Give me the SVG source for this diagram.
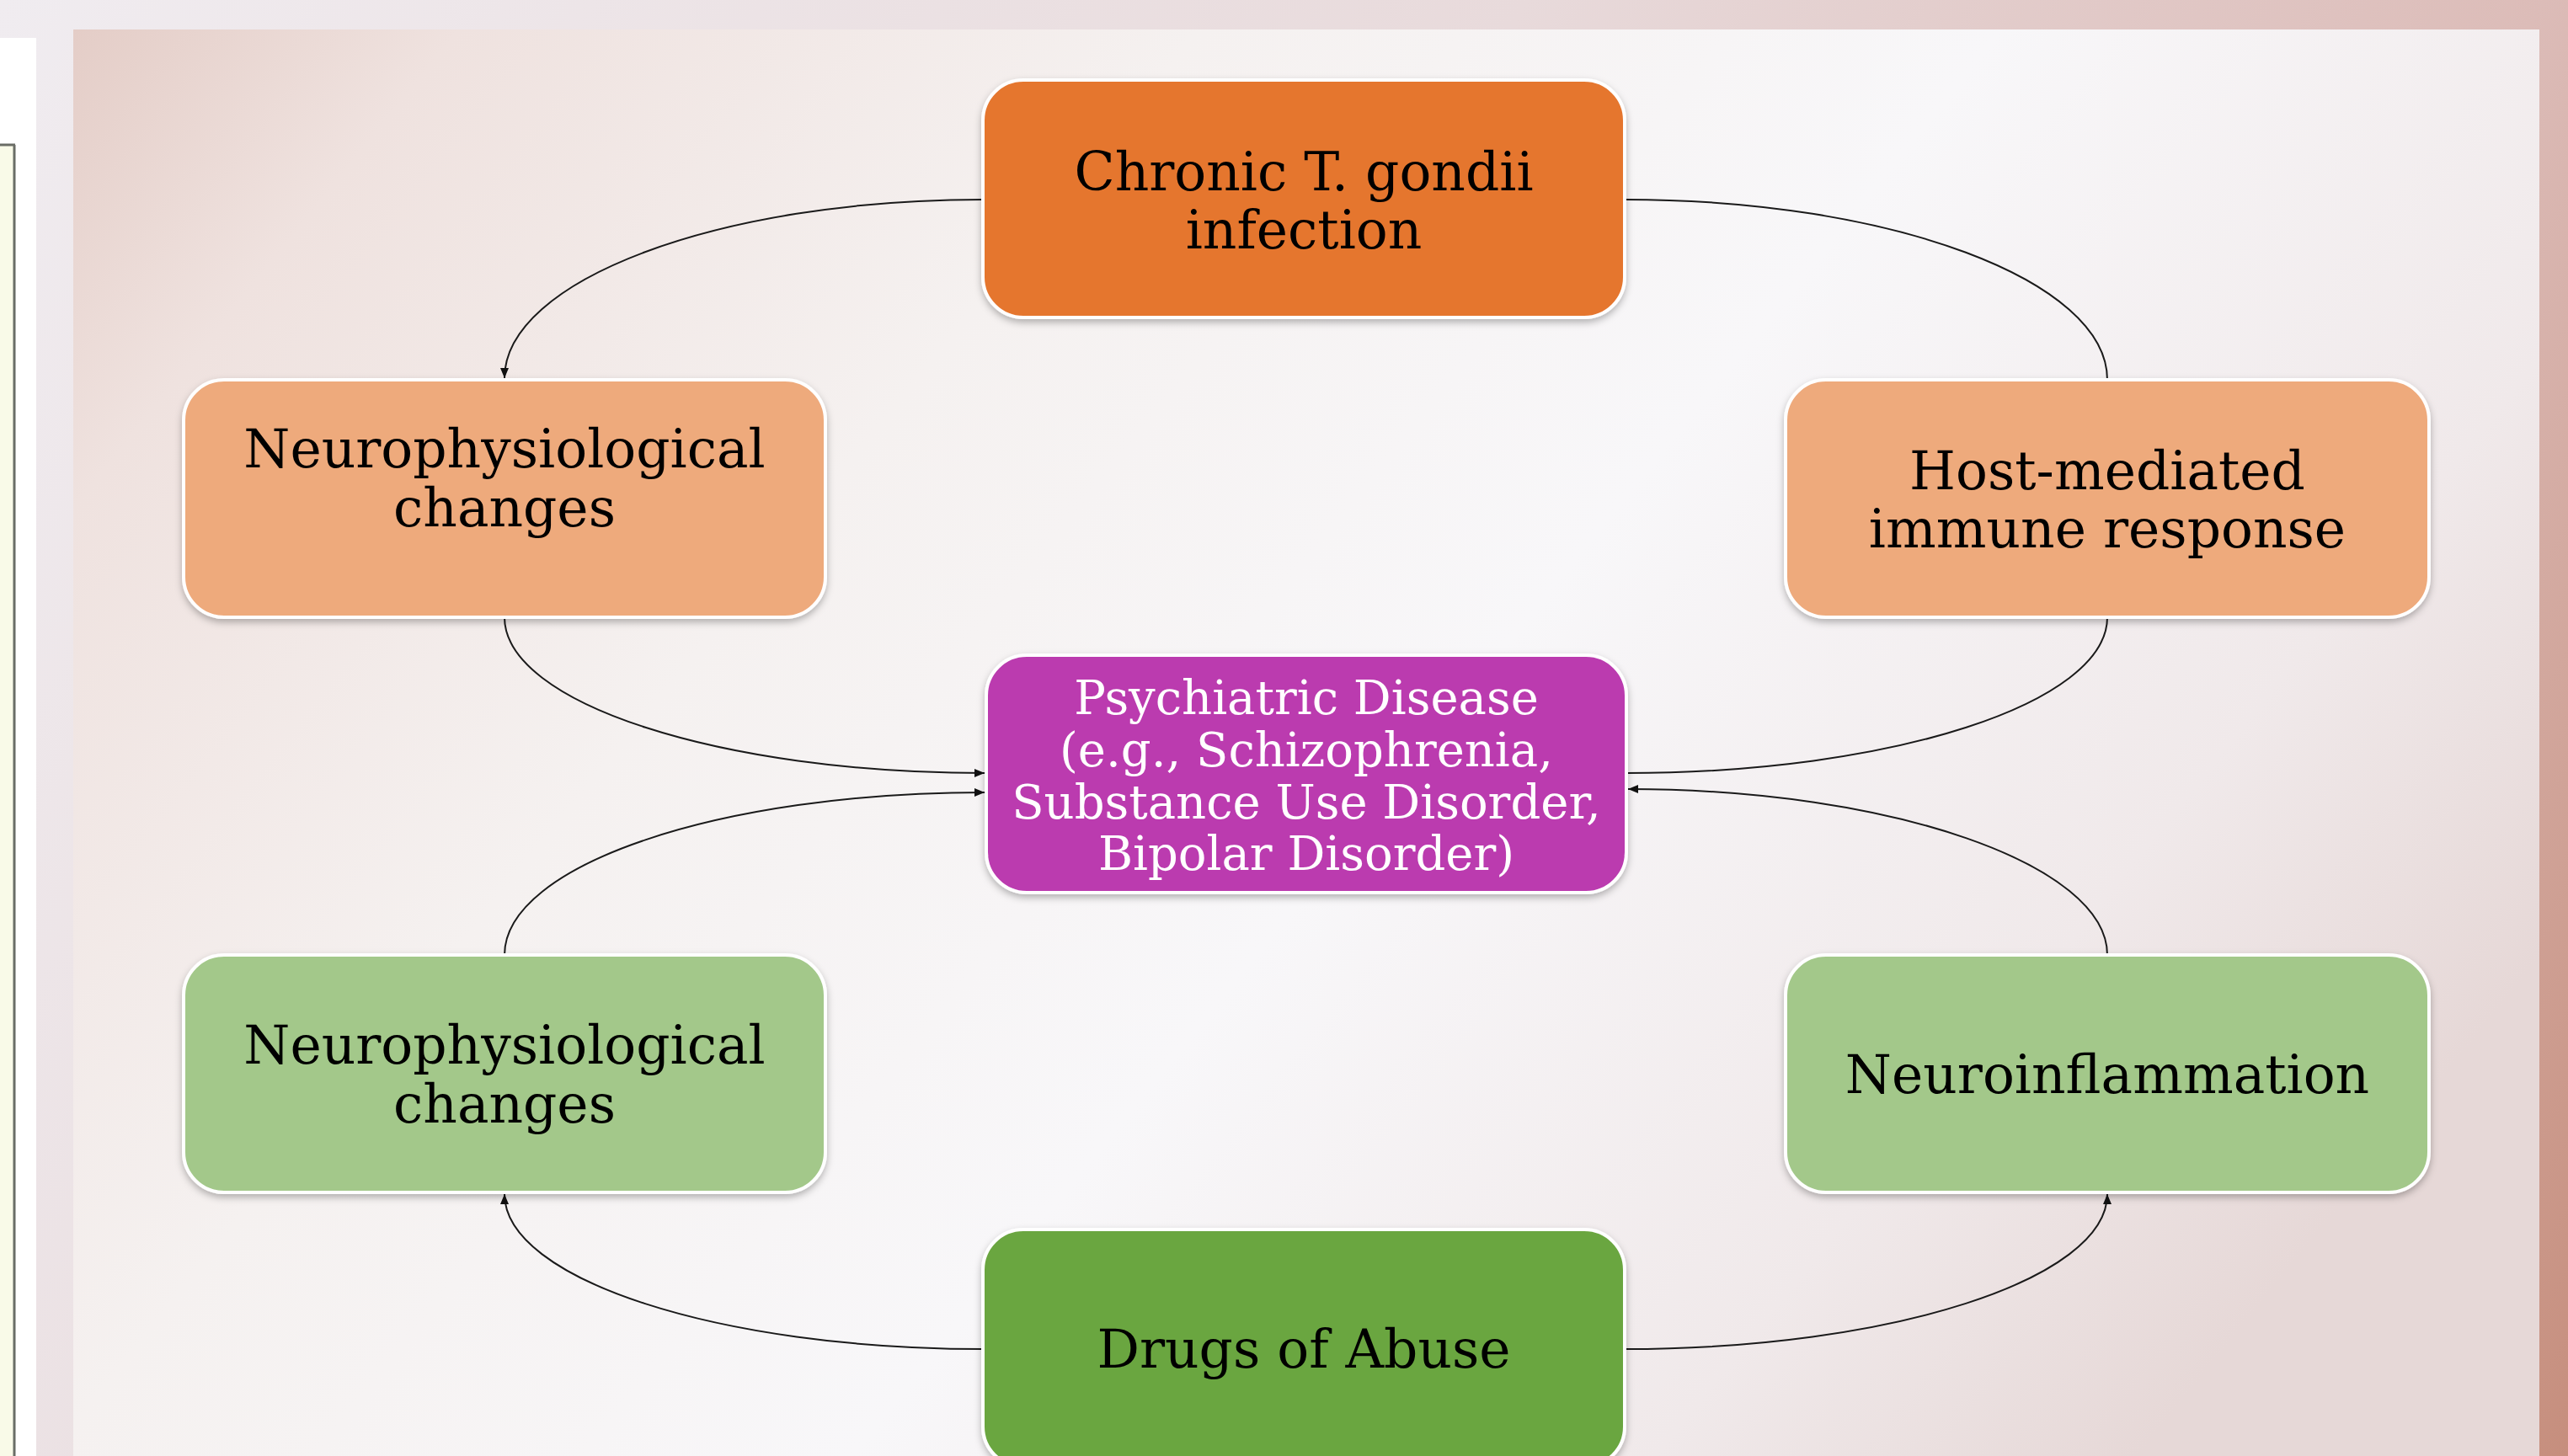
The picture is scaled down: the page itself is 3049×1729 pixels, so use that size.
<svg xmlns="http://www.w3.org/2000/svg" width="3049" height="1729" viewBox="0 0 3049 1729">
  <defs>
    <linearGradient id="bgOuter" x1="0" y1="0" x2="3049" y2="1729" gradientUnits="userSpaceOnUse">
      <stop offset="0" stop-color="#f0ecf0"/>
      <stop offset="0.45" stop-color="#e8dadb"/>
      <stop offset="0.75" stop-color="#dcbcb8"/>
      <stop offset="1" stop-color="#c68e7d"/>
    </linearGradient>
    <linearGradient id="bgPanel" x1="87" y1="35" x2="2400" y2="1900" gradientUnits="userSpaceOnUse">
      <stop offset="0" stop-color="#e4cdc7"/>
      <stop offset="0.12" stop-color="#efe2df"/>
      <stop offset="0.35" stop-color="#f5f1f0"/>
      <stop offset="0.6" stop-color="#f8f7f9"/>
      <stop offset="0.85" stop-color="#f0e9ea"/>
      <stop offset="1" stop-color="#e6d8d7"/>
    </linearGradient>
    <filter id="shadow" x="-5%" y="-5%" width="110%" height="115%">
      <feDropShadow dx="0" dy="4" stdDeviation="4" flood-color="#000" flood-opacity="0.28"/>
    </filter>
    <marker id="arrow" viewBox="0 0 12 10" refX="12" refY="5" markerWidth="12" markerHeight="10" markerUnits="userSpaceOnUse" orient="auto">
      <path d="M0,0 L12,5 L0,10 z" fill="#111"/>
    </marker>
    <style>
      .box { stroke: #ffffff; stroke-width: 4; filter: url(#shadow); }
      .orange { fill: #e5762f; }
      .lorange { fill: #eeaa7c; }
      .purple { fill: #bb3baf; }
      .lgreen { fill: #a3c88a; }
      .green { fill: #6ba640; }
      .lbl { font-family: "DejaVu Serif", "Liberation Serif", serif; font-size: 63px; text-anchor: middle; fill: #000; }
      .wlbl { font-family: "DejaVu Serif", "Liberation Serif", serif; font-size: 56px; text-anchor: middle; fill: #ffffff; }
      .conn { fill: none; stroke: #1a1a1a; stroke-width: 2; }
    </style>
  </defs>

  <!-- background -->
  <rect x="0" y="0" width="3049" height="1729" fill="url(#bgOuter)"/>
  <rect x="87" y="35" width="2928" height="1694" fill="url(#bgPanel)"/>

  <!-- left strip -->
  <rect x="0" y="45" width="43" height="1684" fill="#ffffff"/>
  <rect x="0" y="173" width="17" height="1556" fill="#f9fae8"/>
  <line x1="17" y1="172" x2="17" y2="1729" stroke="#6a6d66" stroke-width="3"/>
  <line x1="0" y1="172" x2="18" y2="172" stroke="#6a6d66" stroke-width="3"/>

  <!-- connectors -->
  <g id="connectors">
    <path class="conn" d="M1167,237 C853,237 599,333 599,449" marker-end="url(#arrow)"/>
    <path class="conn" d="M1929,237 C2245,237 2502,333 2502,451"/>
    <path class="conn" d="M599,733 C599,835 855,918 1169,918" marker-end="url(#arrow)"/>
    <path class="conn" d="M2502,733 C2502,835 2246,918 1931,918"/>
    <path class="conn" d="M599,1134 C599,1027 855,941 1169,941" marker-end="url(#arrow)"/>
    <path class="conn" d="M2502,1134 C2502,1027 2246,937 1933,937" marker-end="url(#arrow)"/>
    <path class="conn" d="M1167,1602 C853,1602 599,1519 599,1418" marker-end="url(#arrow)"/>
    <path class="conn" d="M1929,1602 C2245,1602 2502,1519 2502,1418" marker-end="url(#arrow)"/>
  </g>

  <!-- nodes -->
  <g id="node-chronic">
    <rect class="box orange" x="1167" y="95" width="762" height="282" rx="48"/>
    <text class="lbl" x="1548" y="226">Chronic T. gondii</text>
    <text class="lbl" x="1548" y="295">infection</text>
  </g>
  <g id="node-neuro-top">
    <rect class="box lorange" x="218" y="451" width="762" height="282" rx="48"/>
    <text class="lbl" x="599" y="555">Neurophysiological</text>
    <text class="lbl" x="599" y="625">changes</text>
  </g>
  <g id="node-host">
    <rect class="box lorange" x="2120" y="451" width="764" height="282" rx="48"/>
    <text class="lbl" x="2502" y="581">Host-mediated</text>
    <text class="lbl" x="2502" y="650">immune response</text>
  </g>
  <g id="node-psych">
    <rect class="box purple" x="1171" y="778" width="760" height="282" rx="48"/>
    <text class="wlbl" x="1551" y="848">Psychiatric Disease</text>
    <text class="wlbl" x="1551" y="910">(e.g., Schizophrenia,</text>
    <text class="wlbl" x="1551" y="972">Substance Use Disorder,</text>
    <text class="wlbl" x="1551" y="1033">Bipolar Disorder)</text>
  </g>
  <g id="node-neuro-bottom">
    <rect class="box lgreen" x="218" y="1134" width="762" height="282" rx="48"/>
    <text class="lbl" x="599" y="1263">Neurophysiological</text>
    <text class="lbl" x="599" y="1333">changes</text>
  </g>
  <g id="node-neuroinflammation">
    <rect class="box lgreen" x="2120" y="1134" width="764" height="282" rx="48"/>
    <text class="lbl" x="2502" y="1298">Neuroinflammation</text>
  </g>
  <g id="node-drugs">
    <rect class="box green" x="1167" y="1460" width="762" height="282" rx="48"/>
    <text class="lbl" x="1548" y="1624">Drugs of Abuse</text>
  </g>
</svg>
